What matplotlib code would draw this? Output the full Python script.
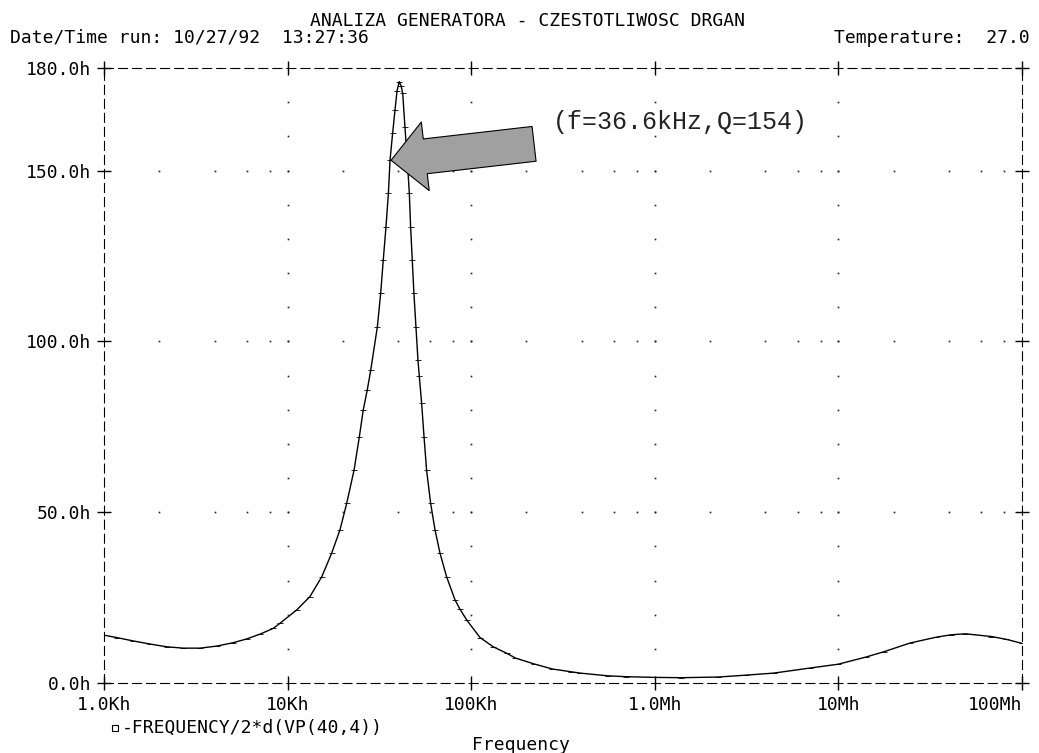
import numpy as np
import matplotlib
matplotlib.use("Agg")
import matplotlib.pyplot as plt
from matplotlib.lines import Line2D

plt.rcParams["font.family"] = ["DejaVu Sans Mono", "DejaVu Sans"]
plt.rcParams["lines.scale_dashes"] = False

# values (frequency in Hz, value in h)
freq = [1000, 1172, 1445, 1782, 2193, 2704, 3334, 4111, 5058, 5984,
        7079, 8356, 9099, 11220, 13240, 15350,
        17380, 19280, 20990, 23010, 24600, 25820, 27160, 28380, 30830, 32140,
        33190, 34360, 35400, 36140, 37330, 38460, 39450, 40550, 41500, 42360,
        43550, 44870, 46030, 46770, 47750, 48750, 50000, 51290, 52120, 53700,
        55340, 57150, 60120, 63530, 67610, 73450, 81660, 86900, 94620, 111700,
        131800, 156000, 174200, 219300, 276700, 348300, 391700, 553400, 696600,
        986300, 1393000, 2218000, 3141000, 4446000, 7047000,
        9977000, 14130000, 17820000, 24550000, 34040000, 40930000, 49200000,
        68080000, 81850000, 100000000]
value = [14.0, 13.3, 12.3, 11.4, 10.6, 10.2, 10.2, 10.8, 11.8, 12.9,
         14.3, 16.0, 17.5, 21.4, 25.3, 31.1,
         38.0, 44.8, 52.6, 62.3, 72.1, 79.9, 85.8, 91.6, 104.3, 114.1,
         123.8, 133.6, 143.3, 153.1, 160.9, 167.7, 173.3, 176.0, 174.8, 172.6,
         162.8, 153.1, 143.3, 133.6, 123.8, 114.1, 104.3, 94.5, 90.0, 81.9,
         72.1, 62.3, 52.6, 44.8, 38.0, 31.1, 24.3, 21.6, 18.4, 13.3,
         10.6, 8.7, 7.3, 5.6, 4.1, 3.3, 2.9, 2.1, 1.85,
         1.65, 1.55, 1.75, 2.3, 2.9, 4.4,
         5.5, 7.6, 9.2, 11.7, 13.4, 14.1, 14.4,
         13.6, 12.8, 11.6]

xticks = [1e3, 1e4, 1e5, 1e6, 1e7, 1e8]
xlabels = ["1.0Kh", "10Kh", "100Kh", "1.0Mh", "10Mh", "100Mh"]
yticks = [0, 50, 100, 150, 180]
ylabels = ["0.0h", "50.0h", "100.0h", "150.0h", "180.0h"]

peak_f, peak_v = 36.6e3, 153.0          # arrow tip
note_f, note_v = 220e3, 157.8           # arrow tail
label_f, label_v = 279e3, 164.2
note = "(f=36.6kHz,Q=154)"

W, H = 1039, 753


def fx(x):
    return x / W


def fy(y):
    return 1 - y / H


fig = plt.figure(figsize=(W / 100, H / 100), dpi=100)
ax = fig.add_axes([fx(104), fy(683), fx(1022) - fx(104), fy(68) - fy(683)])

ax.semilogx(freq, value, color="black", lw=1.0, marker="_", ms=4, mew=0.6)
ax.set_xlim(1e3, 1e8)
ax.set_ylim(0, 180)

# dotted grid like the old PSpice probe output
dec = np.array(xticks)
gx = np.repeat(dec[1:-1], 17)
gy = np.tile(np.arange(10, 180, 10), len(dec) - 2)
ax.plot(gx, gy, ls="none", marker="s", ms=1.2, color="#222222", mew=0)
mx = np.outer(dec[:-1], [2, 4, 6, 8, 10]).ravel()
for lev in yticks[1:-1]:
    ax.plot(mx, np.full(mx.shape, lev), ls="none", marker="s", ms=1.2,
            color="#222222", mew=0)

ax.set_xticks(xticks)
ax.set_xticklabels(xlabels)
ax.xaxis.set_minor_locator(matplotlib.ticker.NullLocator())
ax.set_yticks(yticks)
ax.set_yticklabels(ylabels)
ax.tick_params(which="major", direction="inout", length=10, width=1.0,
               top=True, right=True, labelsize=13, colors="black")
ax.tick_params(axis="x", pad=4)
ax.tick_params(axis="y", pad=4)
ax.get_xticklabels()[-1].set_ha("right")
for s in ax.spines.values():
    s.set_linestyle((0, (6.5, 3.6)))
    s.set_linewidth(0.8)

# arrow and note
ax.annotate("", xy=(peak_f, peak_v), xytext=(note_f, note_v),
            arrowprops=dict(arrowstyle="simple,head_length=24.8,head_width=49.7,tail_width=25.2",
                            mutation_scale=1, shrinkA=0, shrinkB=0,
                            fc="#a0a0a0", ec="black", lw=0.8))
ax.text(label_f, label_v, note, family="Liberation Mono", fontsize=18,
        va="center", ha="left", color="#222222")

# header and footer texts
fig.text(fx(528), fy(21), "ANALIZA GENERATORA - CZESTOTLIWOSC DRGAN",
         ha="center", va="center", fontsize=13)
fig.text(fx(10), fy(38), "Date/Time run: 10/27/92  13:27:36",
         ha="left", va="center", fontsize=13)
fig.text(fx(1030), fy(38), "Temperature:  27.0",
         ha="right", va="center", fontsize=13)
fig.add_artist(Line2D([fx(115)], [fy(728)], marker="s", ms=4, mfc="none",
                      mec="black", mew=0.8, transform=fig.transFigure))
fig.text(fx(122), fy(728), "-FREQUENCY/2*d(VP(40,4))",
         ha="left", va="center", fontsize=13)
fig.text(fx(521), fy(745), "Frequency", ha="center", va="center", fontsize=13)

fig.savefig("out.png", dpi=100)
